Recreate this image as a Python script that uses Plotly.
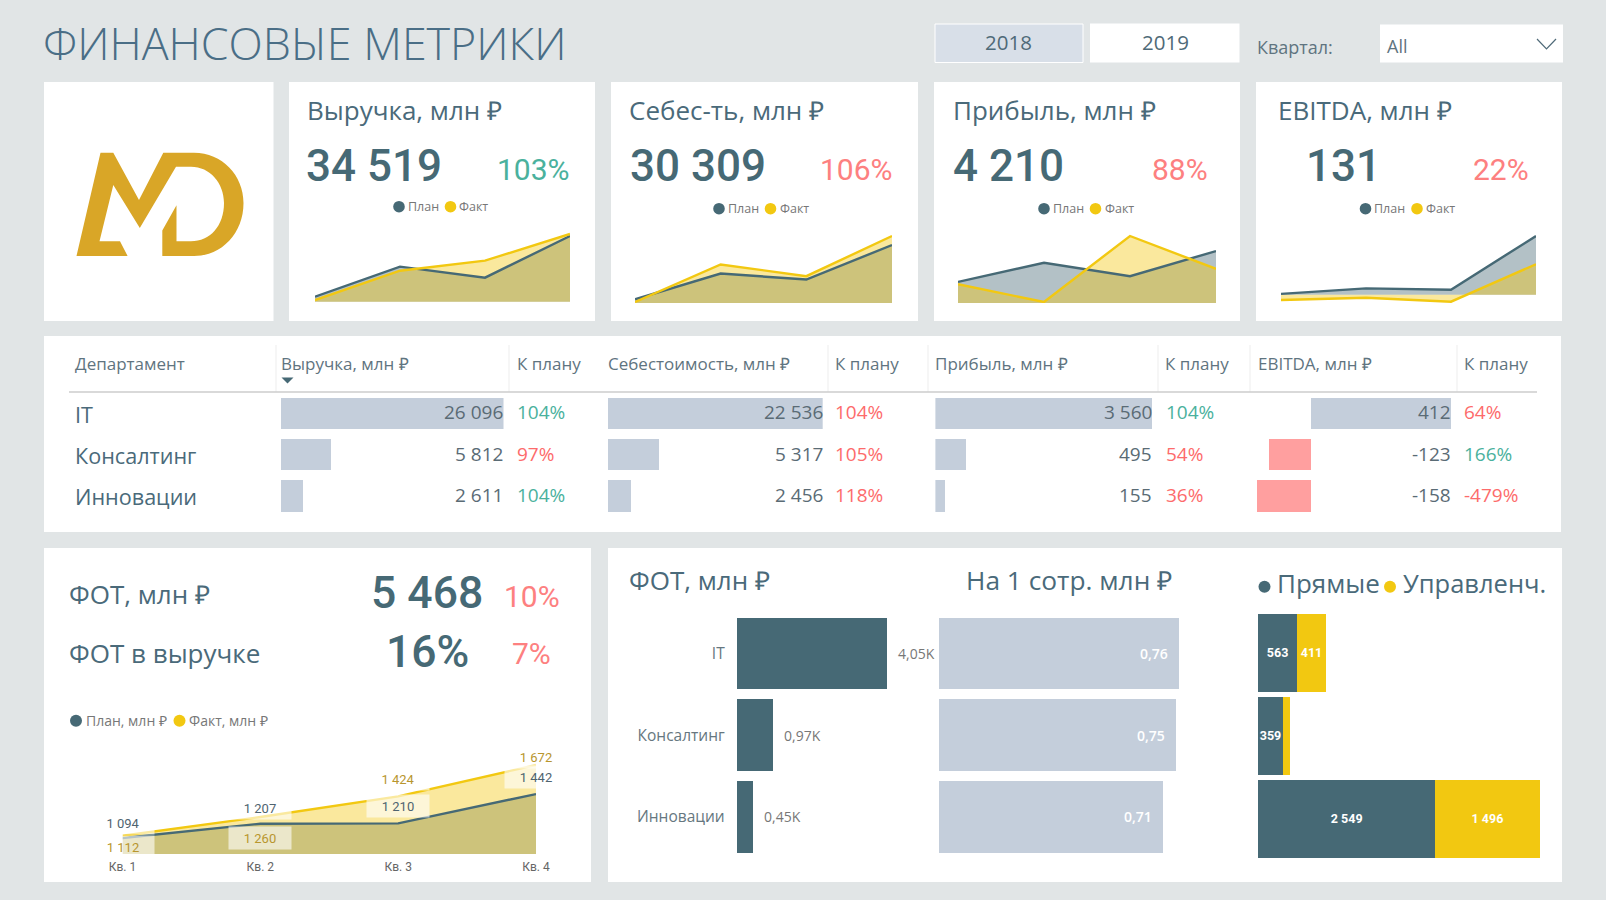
import plotly.graph_objects as go

W, H = 1606, 900

BG = '#E1E5E6'
DARK = '#466975'
GOLD = '#F2C811'
BAR = '#C4CEDB'
NEG = '#FF9F9F'
GREEN = '#4AB19D'
RED = '#FD6B6B'
SALMON = '#FD8080'
SANS = 'Open Sans'
NUM = 'Roboto'

QUARTERS = ['Кв. 1', 'Кв. 2', 'Кв. 3', 'Кв. 4']

# sparklines in the KPI cards
REV_PLAN = [6372, 8604, 7786, 10886]
REV_FACT = [6124, 8306, 9050, 11034]
COST_PLAN = [5285, 7279, 6813, 9481]
COST_FACT = [5078, 7979, 7072, 10180]
PROFIT_PLAN = [778, 1352, 950, 1705]
PROFIT_FACT = [708, 174, 2158, 1171]
EBITDA_PLAN = [8, 54, 43, 490]
EBITDA_FACT = [-43, -24, -57, 255]

KPI_TITLES = ['Выручка, млн ₽', 'Себес-ть, млн ₽', 'Прибыль, млн ₽', 'EBITDA, млн ₽']
KPI_VALUES = ['34 519', '30 309', '4 210', '131']
KPI_PCT = ['103%', '106%', '88%', '22%']

# department table
DEPARTMENTS = ['IT', 'Консалтинг', 'Инновации']
TBL_REV = [26096, 5812, 2611]
TBL_REV_PCT = ['104%', '97%', '104%']
TBL_COST = [22536, 5317, 2456]
TBL_COST_PCT = ['104%', '105%', '118%']
TBL_PROFIT = [3560, 495, 155]
TBL_PROFIT_PCT = ['104%', '54%', '36%']
TBL_EBITDA = [412, -123, -158]
TBL_EBITDA_PCT = ['64%', '166%', '-479%']
TBL_HEADERS = ['Департамент', 'Выручка, млн ₽', 'К плану', 'Себестоимость, млн ₽', 'К плану',
               'Прибыль, млн ₽', 'К плану', 'EBITDA, млн ₽', 'К плану']

# payroll
FOT_PLAN = [1094, 1207, 1210, 1442]
FOT_FACT = [1112, 1260, 1424, 1672]
FOT_TOTAL = [4050, 970, 450]
FOT_TOTAL_TEXT = ['4,05K', '0,97K', '0,45K']
FOT_PER_HEAD = [0.76, 0.75, 0.71]
FOT_PER_HEAD_TEXT = ['0,76', '0,75', '0,71']
FOT_DIRECT = [563, 359, 2549]
FOT_MGMT = [411, 97, 1496]
FOT_MGMT_TEXT = ['411', '', '1 496']


def px(x):
    return x / W


def py(y):
    return 1 - y / H


def fmt(v):
    return f'{v:,}'.replace(',', ' ')


fig = go.Figure()
shapes = []
notes = []
axis_n = 0


def rect(x0, y0, x1, y1, color, line=None):
    shapes.append(dict(type='rect', xref='paper', yref='paper', layer='below',
                       x0=px(x0), x1=px(x1), y0=py(y0), y1=py(y1), fillcolor=color,
                       line=dict(color=line or color, width=1 if line else 0)))


def dot(x, y, r, color):
    shapes.append(dict(type='circle', xref='paper', yref='paper', layer='above',
                       x0=px(x - r), x1=px(x + r), y0=py(y - r), y1=py(y + r),
                       fillcolor=color, line=dict(width=0)))


def seg(x0, y0, x1, y1, color, width=1):
    shapes.append(dict(type='line', xref='paper', yref='paper', layer='below',
                       x0=px(x0), x1=px(x1), y0=py(y0), y1=py(y1),
                       line=dict(color=color, width=width)))


def path(points, color, close=True):
    # plotly wants one command letter per segment
    d = ''
    for cmd, pts in points:
        step = 3 if cmd == 'C' else 1
        for k in range(0, len(pts), step):
            d += cmd + ' '.join(f'{px(a):.5f},{py(b):.5f}' for a, b in pts[k:k + step])
    if close:
        d += 'Z'
    shapes.append(dict(type='path', xref='paper', yref='paper', path=d, layer='above',
                       fillcolor=color if close else 'rgba(0,0,0,0)',
                       line=dict(color=color, width=0 if close else 1.2)))


def txt(x, y, text, size, color, anchor='left', family=SANS, weight=None):
    f = dict(size=size, color=color, family=family)
    if weight:
        f['weight'] = weight
    notes.append(dict(xref='paper', yref='paper', x=px(x), y=py(y), text=text, font=f,
                      xanchor=anchor, yanchor='middle', showarrow=False, borderpad=0,
                      borderwidth=0))


def new_axes(x0, x1, y0, y1, xrange, yrange, **xextra):
    global axis_n
    axis_n += 1
    s = '' if axis_n == 1 else str(axis_n)
    xa = dict(domain=[px(x0), px(x1)], range=xrange, anchor='y' + s, showgrid=False,
              zeroline=False, showline=False, showticklabels=False, ticks='',
              fixedrange=True, automargin=False)
    xa.update(xextra)
    ya = dict(domain=[py(y1), py(y0)], range=yrange, anchor='x' + s, showgrid=False,
              zeroline=False, showline=False, showticklabels=False, ticks='',
              fixedrange=True, automargin=False)
    fig.update_layout({'xaxis' + s: xa, 'yaxis' + s: ya})
    return 'x' + s, 'y' + s


def add_area(xa, ya, plan, fact):
    for vals, col in [(plan, 'rgba(70,105,117,0.41)'), (fact, 'rgba(242,200,17,0.41)')]:
        fig.add_trace(go.Scatter(x=QUARTERS, y=vals, mode='lines', fill='tozeroy', fillcolor=col,
                                 line=dict(width=0), xaxis=xa, yaxis=ya, hoverinfo='skip'))
    for vals, col in [(plan, DARK), (fact, GOLD)]:
        fig.add_trace(go.Scatter(x=QUARTERS, y=vals, mode='lines', line=dict(color=col, width=2.4),
                                 xaxis=xa, yaxis=ya, hoverinfo='skip'))


def bar_label(xa, ya, val, dep, text, shift, anchor, size, color, weight=None):
    f = dict(size=size, color=color, family=SANS)
    if weight:
        f['weight'] = weight
    notes.append(dict(xref=xa, yref=ya, x=val, y=dep, xshift=shift, text=text, showarrow=False,
                      xanchor=anchor, yanchor='middle', borderpad=0, font=f))


# page furniture
for box in [(44, 82, 273.5, 321), (289, 82, 595, 321), (611, 82, 918, 321), (934, 82, 1240, 321),
            (1256, 82, 1562, 321), (44, 336, 1561, 532), (44, 548, 591, 882), (608, 548, 1562, 882)]:
    rect(*box, 'white')

txt(43, 42.5, 'ФИНАНСОВЫЕ МЕТРИКИ', 44.8, '#4A6E86', weight=300)
rect(935, 24, 1083, 62.5, '#D8DFE8', 'white')
rect(1090, 23.5, 1239.5, 62.5, 'white')
rect(1380, 24.5, 1563, 62.5, 'white')
txt(1008.5, 42, '2018', 20.5, '#4F6A78', 'center')
txt(1165, 42, '2019', 20.5, '#4F6A78', 'center')
txt(1257, 47, 'Квартал:', 18, '#5F7480')
txt(1387, 46, 'All', 18, '#5F7480')
path([('M', [(1537, 39)]), ('L', [(1546.5, 49), (1556, 39)])], '#4F6A78', close=False)

# logo
logo = [('M', [(76.5, 256)]),
        ('L', [(100.5, 152.7), (113.3, 152.7), (139, 200), (163.3, 152.7), (194, 152.7)]),
        ('C', [(222, 152.7), (243.5, 175), (243.5, 203), (243.5, 233), (222, 256), (194, 256)]),
        ('L', [(162.3, 256), (162.3, 230.5), (176.5, 205.3), (176.5, 241.3), (191, 241.3)]),
        ('C', [(210, 241.3), (224, 226), (224, 203), (224, 183), (210, 166.7), (191, 166.7)]),
        ('L', [(176, 166.7), (139.8, 228), (113.3, 185), (99.5, 241.3), (120, 241.3), (127.6, 256)])]
path(logo, '#D9A627')

# KPI cards
card_x = [(315, 570, 301.7, 234, 6000, 11034),
          (635, 892, 303, 236, 5000, 10180),
          (958, 1216, 303, 236, 144, 2158),
          (1281, 1536, 301.7, 236, -57, 490)]
title_x = [306.5, 629, 952.5, 1278]
value_x = [305.5, 630, 953, 1306]
pct_x = [570, 893, 1208, 1528.5]
pct_col = [GREEN, SALMON, SALMON, SALMON]
leg_y = [206.7, 208.7, 208.7, 208.7]
leg_x = [399, 719, 1044, 1365.5]
spark_data = [(REV_PLAN, REV_FACT), (COST_PLAN, COST_FACT), (PROFIT_PLAN, PROFIT_FACT),
              (EBITDA_PLAN, EBITDA_FACT)]

for i in range(4):
    x0, x1, yb, yt, vmin, vmax = card_x[i]
    per_px = (vmax - vmin) / (yb - yt)
    xa, ya = new_axes(x0, x1, yt - 3, yb + (2 if i == 3 else 0), [0, 3],
                      [vmin - (2 * per_px if i == 3 else 0), vmax + 3 * per_px], type='category')
    add_area(xa, ya, *spark_data[i])
    txt(title_x[i], 110.5, KPI_TITLES[i], 26, '#4A6A7A')
    txt(value_x[i], 166, KPI_VALUES[i], 44, DARK, family=NUM, weight=500)
    txt(pct_x[i], 169, KPI_PCT[i], 30, pct_col[i], 'right', family=NUM)
    dot(leg_x[i], leg_y[i], 5.8, DARK)
    txt(leg_x[i] + 8.5, leg_y[i], 'План', 12.5, '#777777')
    dot(leg_x[i] + 51.5, leg_y[i], 5.8, GOLD)
    txt(leg_x[i] + 60.5, leg_y[i], 'Факт', 12.5, '#777777')

# table
header_x = [75, 281, 517, 608, 835, 935, 1165, 1257.5, 1464]
for xh, label in zip(header_x, TBL_HEADERS):
    txt(xh, 364, label, 17, '#5F7480')
for xs in [276, 509, 828, 928, 1158, 1250, 1457]:
    seg(xs, 345, xs, 392, '#EDEDED')
seg(69, 392, 1537, 392, '#CCCCCC', 1.5)
path([('M', [(281.5, 377.5)]), ('L', [(293.5, 377.5), (287.5, 383.5)])], DARK)

ROW_Y = [413.5, 454.5, 496]
for yr, dep in zip(ROW_Y, DEPARTMENTS):
    txt(75, yr + 1, dep, 21.6, '#4A6A7A')

columns = [(TBL_REV, TBL_REV_PCT, 281, 503.5, 0, 26096, 517),
           (TBL_COST, TBL_COST_PCT, 608, 822.7, 0, 22536, 835),
           (TBL_PROFIT, TBL_PROFIT_PCT, 935.4, 1152, 0, 3560, 1165.5),
           (TBL_EBITDA, TBL_EBITDA_PCT, 1257, 1451.4, -158, 412, 1464)]

for vals, pcts, x0, x1, vmin, vmax, xp in columns:
    xa, ya = new_axes(x0, x1, 393, 516.5, [vmin, vmax], [2.5, -0.5], )
    fig.update_layout({'yaxis' + ya[1:]: dict(type='category')})
    fig.add_trace(go.Bar(x=vals, y=DEPARTMENTS, orientation='h', xaxis=xa, yaxis=ya, width=0.76,
                         marker=dict(color=[BAR if v >= 0 else NEG for v in vals], line=dict(width=0)),
                         hoverinfo='skip'))
    for j in range(3):
        txt(x1, ROW_Y[j] - 1, fmt(vals[j]), 19, '#5A6B75', 'right')
        good = pcts[j] in ('104%', '166%') and not (vals is TBL_COST)
        txt(xp, ROW_Y[j] - 1, pcts[j], 19, GREEN if good else RED)

# payroll, left panel
txt(69, 594, 'ФОТ, млн ₽', 26, '#4A6A7A')
txt(69, 652.5, 'ФОТ в выручке', 26, '#4A6A7A')
txt(426.5, 593, '5 468', 44.5, DARK, 'center', family=NUM, weight=500)
txt(427.5, 652, '16%', 44.5, DARK, 'center', family=NUM, weight=500)
txt(532, 596, '10%', 30, SALMON, 'center', family=NUM)
txt(531, 653, '7%', 30, SALMON, 'center', family=NUM)
dot(76, 720.7, 6, DARK)
txt(85.5, 720.7, 'План, млн ₽', 14, '#777777')
dot(179.5, 720.7, 6, GOLD)
txt(189, 720.7, 'Факт, млн ₽', 14, '#777777')

xa, ya = new_axes(122.5, 536, 762, 854, [0, 3], [967, 1696], type='category', showticklabels=True,
                  tickfont=dict(size=12, color='#666666', family=NUM), ticklabelstandoff=4)
add_area(xa, ya, FOT_PLAN, FOT_FACT)
plan_shift = [15, 16, 17, 17]
fact_shift = [-11, -21, 17, 8]
for i in range(4):
    for val, shift, col in [(FOT_PLAN[i], plan_shift[i], '#4F6470'), (FOT_FACT[i], fact_shift[i], '#B8962E')]:
        notes.append(dict(xref=xa, yref=ya, x=i, y=val, yshift=shift, text=fmt(val), showarrow=False,
                          font=dict(size=13, color=col, family=NUM), bgcolor='rgba(255,255,255,0.6)',
                          width=60, height=20, xanchor='center', yanchor='middle'))

# payroll, right panel
txt(628.5, 580, 'ФОТ, млн ₽', 26, '#4A6A7A')
txt(966, 580, 'На 1 сотр. млн ₽', 26.3, '#4A6A7A')
dot(1264.5, 586.7, 6, DARK)
txt(1277, 583, 'Прямые', 26, '#4A6A7A')
dot(1390, 586.7, 6, GOLD)
txt(1403, 583, 'Управленч.', 25.5, '#4A6A7A')

xa, ya = new_axes(736.7, 936.7, 612.65, 857.75, [0, 5405], [2.5, -0.5])
fig.update_layout({'yaxis' + ya[1:]: dict(type='category', showticklabels=True, ticklabelstandoff=11,
                                          tickfont=dict(size=15.5, color='#667780', family=SANS))})
fig.add_trace(go.Bar(x=FOT_TOTAL, y=DEPARTMENTS, orientation='h', xaxis=xa, yaxis=ya, width=0.876,
                     marker=dict(color=DARK, line=dict(width=0)), hoverinfo='skip'))
for val, dep, label in zip(FOT_TOTAL, DEPARTMENTS, FOT_TOTAL_TEXT):
    bar_label(xa, ya, val, dep, label, 10, 'left', 14, '#777777')

xa, ya = new_axes(939, 1179, 612.65, 857.75, [0, 0.76], [2.5, -0.5])
fig.update_layout({'yaxis' + ya[1:]: dict(type='category')})
fig.add_trace(go.Bar(x=FOT_PER_HEAD, y=DEPARTMENTS, orientation='h', xaxis=xa, yaxis=ya, width=0.876,
                     marker=dict(color=BAR, line=dict(width=0)), hoverinfo='skip'))
for val, dep, label in zip(FOT_PER_HEAD, DEPARTMENTS, FOT_PER_HEAD_TEXT):
    bar_label(xa, ya, val, dep, label, -10, 'right', 14, 'white', weight=600)

xa, ya = new_axes(1258, 1548, 611.3, 860.3, [0, 4167], [2.5, -0.5])
fig.update_layout({'yaxis' + ya[1:]: dict(type='category')})
for vals, col, labels in [(FOT_DIRECT, DARK, [fmt(v) for v in FOT_DIRECT]), (FOT_MGMT, GOLD, FOT_MGMT_TEXT)]:
    fig.add_trace(go.Bar(x=vals, y=DEPARTMENTS, orientation='h', xaxis=xa, yaxis=ya, width=0.936,
                         marker=dict(color=col, line=dict(width=0)), text=labels, textposition='inside',
                         insidetextanchor='middle', constraintext='none', textangle=0,
                         textfont=dict(size=12.5, color='white', family=NUM, weight=700),
                         hoverinfo='skip'))

fig.update_layout(width=W, height=H, margin=dict(l=0, r=0, t=0, b=0), autosize=False,
                  paper_bgcolor=BG, plot_bgcolor='rgba(0,0,0,0)', showlegend=False,
                  barmode='stack', separators=', ', shapes=shapes, annotations=notes,
                  font=dict(family=SANS))

fig.write_html('out.html', config=dict(displayModeBar=False),
               post_script="document.body.style.margin='0';document.body.style.background='" + BG + "';")
